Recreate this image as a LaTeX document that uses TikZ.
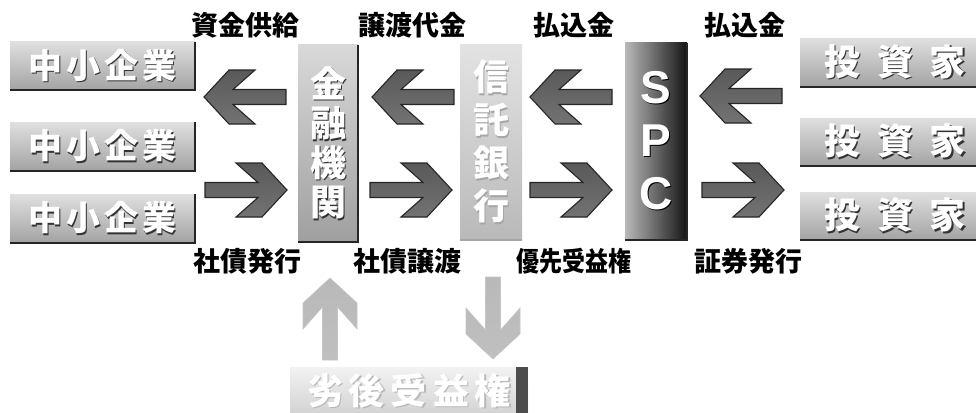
\documentclass[tikz,border=0pt]{standalone}
\usepackage{fontspec}
\newfontfamily\jp{Noto Sans CJK JP}
\newfontfamily\lat{Liberation Sans}
\usetikzlibrary{calc}
\newcommand\shw[2][black!80]{\makebox[0pt][l]{\hspace*{1.3pt}\raisebox{-1.3pt}{\color{#1}#2}}\textcolor{white}{#2}}
\begin{document}
\begin{tikzpicture}[x=1pt,y=-1pt,
  lab/.style={inner sep=0pt, font=\jp\bfseries\fontsize{27}{27}\selectfont},
  hbox/.style={inner sep=0pt, minimum width=185pt, minimum height=48pt,
    top color=gray!25, bottom color=gray!72,
    font=\jp\bfseries\fontsize{34}{34}\selectfont},
  ibox/.style={hbox, minimum width=190pt, font=\jp\bfseries\fontsize{36}{36}\selectfont},
  vbox/.style={inner sep=0pt, minimum width=60pt, minimum height=197pt, align=center},
  edge/.style={line width=2.2pt, black!85},
  barrow/.pic={\path[pic actions] (-41,-7.5) -- (12,-7.5) -- (-10,-27) -- (16,-27) -- (41,0)
     -- (16,27) -- (-10,27) -- (12,7.5) -- (-41,7.5) -- cycle;},
  darr/.style={draw=black!85, line width=1.1pt, top color=black!65, middle color=gray!15, bottom color=black!55},
  larr/.style={draw=gray!45, line width=0.6pt, top color=gray!55, middle color=gray!12, bottom color=gray!50}
]
\useasboundingbox (0,0) rectangle (976,412);

% top labels
\node[lab] (l1) at (245,25) {資金供給};
\node[lab] (l2) at (412,25) {譲渡代金};
\node[lab] (l3) at (574,25) {払込金};
\node[lab] (l4) at (745,25) {払込金};

% SME boxes
\node[hbox] (sme1) at (102.5,66) {\shw{中\hspace{4pt}小\hspace{4pt}企\hspace{4pt}業}};
\node[hbox] (sme2) at (102.5,146.5) {\shw{中\hspace{4pt}小\hspace{4pt}企\hspace{4pt}業}};
\node[hbox] (sme3) at (102.5,218.5) {\shw{中\hspace{4pt}小\hspace{4pt}企\hspace{4pt}業}};
\foreach \n in {sme1,sme2,sme3}{
  \draw[edge] (\n.south west) -- (\n.south east) -- (\n.north east);
}

% investor boxes
\node[ibox] (inv1) at (895,62.5) {\shw{投\hspace{17pt}資\hspace{17pt}家}};
\node[ibox] (inv2) at (895,142) {\shw{投\hspace{17pt}資\hspace{17pt}家}};
\node[ibox] (inv3) at (895,216) {\shw{投\hspace{17pt}資\hspace{17pt}家}};
\foreach \n in {inv1,inv2,inv3}{
  \draw[edge] (\n.south west) -- (\n.south east);
}

% vertical boxes
\node[vbox, top color=gray!30, bottom color=gray!75,
  font=\jp\bfseries\fontsize{36}{39.5}\selectfont] (bank) at (328,143.5)
  {\shw{金}\\\shw{融}\\\shw{機}\\\shw{関}};
\draw[edge] (bank.south west) -- (bank.south east) -- (bank.north east);
\node[vbox, minimum width=62pt, minimum height=195pt, top color=gray!22, bottom color=gray!55,
  font=\jp\bfseries\fontsize{36}{43}\selectfont] (trust) at (491,142.5)
  {\shw[gray!70]{信}\\\shw[gray!70]{託}\\\shw[gray!70]{銀}\\\shw[gray!70]{行}};
\draw[line width=1.5pt, gray!70] (trust.south west) -- (trust.south east);
\node[vbox, minimum width=62pt, left color=gray!55, right color=black!92,
  font=\lat\bfseries\fontsize{46}{53}\selectfont] (spc) at (656,141.5)
  {\shw[black]{S}\\\shw[black]{P}\\\shw[black]{C}};
\draw[edge] (spc.south west) -- (spc.south east) -- (spc.north east);

% horizontal arrows
\pic[darr, rotate=180] at (245,97) {barrow};
\pic[darr] at (246,190) {barrow};
\pic[darr, rotate=180] at (413,97) {barrow};
\pic[darr] at (411,190) {barrow};
\pic[darr, rotate=180] at (571,97) {barrow};
\pic[darr] at (571,190) {barrow};
\pic[darr, rotate=180] at (741,96) {barrow};
\pic[darr] at (743,190) {barrow};

% bottom labels
\node[lab] (b1) at (247,261) {社債発行};
\node[lab] (b2) at (407,261) {社債譲渡};
\node[lab] (b3) at (574,261) {\scalebox{0.85}[1]{優先受益権}};
\node[lab] (b4) at (748,261) {証券発行};

% vertical arrows
\pic[larr, rotate=90] at (330,319) {barrow};
\pic[larr, rotate=-90] at (493,318) {barrow};

% subordinated box
\node[inner sep=0pt, minimum width=238pt, minimum height=48pt,
  top color=gray!10, bottom color=gray!35,
  font=\jp\bfseries\fontsize{36}{36}\selectfont] (sub) at (409,391)
  {\shw[gray!55]{劣\hspace{6pt}後\hspace{6pt}受\hspace{6pt}益\hspace{6pt}権}};
\fill[black!70] ($(sub.north east)+(-12,0)$) rectangle (sub.south east);
\end{tikzpicture}
\end{document}
